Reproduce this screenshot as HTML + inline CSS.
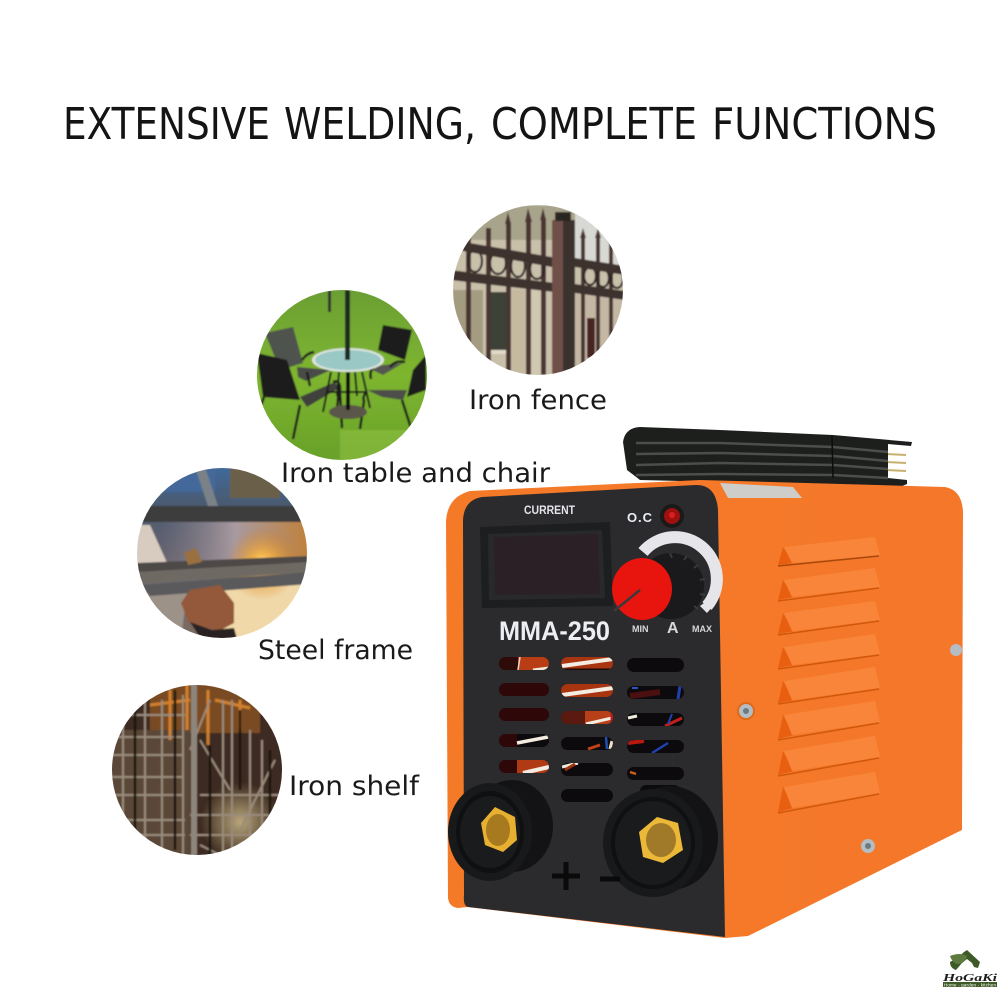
<!DOCTYPE html>
<html><head><meta charset="utf-8"><style>html,body{margin:0;padding:0;background:#fff}svg{display:block}text{font-family:"DejaVu Sans","Liberation Sans",sans-serif}text.ls{font-family:"Liberation Sans",sans-serif}</style></head><body>
<svg width="1000" height="1000" viewBox="0 0 1000 1000" xmlns="http://www.w3.org/2000/svg">
<defs>
<clipPath id="c1"><circle cx="538" cy="290" r="85"/></clipPath>
<clipPath id="c2"><circle cx="342" cy="375" r="85"/></clipPath>
<clipPath id="c3"><circle cx="222" cy="553" r="85"/></clipPath>
<clipPath id="c4"><circle cx="197" cy="770" r="85"/></clipPath>
<filter id="b" x="-5%" y="-5%" width="110%" height="110%"><feGaussianBlur stdDeviation="0.7"/></filter>
<clipPath id="v">
<rect x="499" y="657" width="50" height="13" rx="6.5"/><rect x="561" y="657" width="52" height="13" rx="6.5"/><rect x="627" y="658" width="57" height="14" rx="7"/>
<rect x="499" y="683" width="50" height="13" rx="6.5"/><rect x="561" y="684" width="52" height="13" rx="6.5"/><rect x="627" y="686" width="57" height="13" rx="6.5"/>
<rect x="499" y="708" width="50" height="13" rx="6.5"/><rect x="561" y="711" width="52" height="13" rx="6.5"/><rect x="627" y="713" width="57" height="13" rx="6.5"/>
<rect x="499" y="734" width="50" height="13" rx="6.5"/><rect x="561" y="737" width="52" height="13" rx="6.5"/><rect x="627" y="740" width="57" height="13" rx="6.5"/>
<rect x="499" y="760" width="50" height="13" rx="6.5"/><rect x="561" y="763" width="52" height="13" rx="6.5"/><rect x="627" y="767" width="57" height="13" rx="6.5"/>
<rect x="561" y="789" width="52" height="13" rx="6.5"/><rect x="640" y="785" width="40" height="12" rx="6"/>
</clipPath>
<linearGradient id="sky" x1="0" y1="0" x2="0" y2="1"><stop offset="0" stop-color="#3f6a9c"/><stop offset=".22" stop-color="#4a5a70"/><stop offset=".6" stop-color="#6f6670"/><stop offset="1" stop-color="#7a6a60"/></linearGradient>
<linearGradient id="haze" x1="0" y1="0" x2="1" y2="0"><stop offset="0" stop-color="#8a8088" stop-opacity="0"/><stop offset=".5" stop-color="#a89aa0"/><stop offset="1" stop-color="#c08038"/></linearGradient>
<linearGradient id="grass" x1="0" y1="0" x2="0" y2="1"><stop offset="0" stop-color="#6a9e34"/><stop offset=".5" stop-color="#7eb52e"/><stop offset="1" stop-color="#67a02a"/></linearGradient>
<radialGradient id="spark"><stop offset="0" stop-color="#fff8d0"/><stop offset=".25" stop-color="#f8b848" stop-opacity=".95"/><stop offset="1" stop-color="#d88020" stop-opacity="0"/></radialGradient>
<radialGradient id="glow"><stop offset="0" stop-color="#d8c490" stop-opacity=".8"/><stop offset="1" stop-color="#d8c490" stop-opacity="0"/></radialGradient>
<linearGradient id="side" x1="0" y1="0" x2="1" y2="0"><stop offset="0" stop-color="#f57a28"/><stop offset="1" stop-color="#f5782a"/></linearGradient>
</defs>
<rect width="1000" height="1000" fill="#fff"/>
<g font-size="44" fill="#141414">
<text x="63" y="139" textLength="207" lengthAdjust="spacingAndGlyphs">EXTENSIVE</text>
<text x="284" y="139" textLength="192" lengthAdjust="spacingAndGlyphs">WELDING,</text>
<text x="491" y="139" textLength="206" lengthAdjust="spacingAndGlyphs">COMPLETE</text>
<text x="712" y="139" textLength="225" lengthAdjust="spacingAndGlyphs">FUNCTIONS</text>
</g>

<!-- fence -->
<g clip-path="url(#c1)"><g filter="url(#b)">
<rect x="450" y="205" width="175" height="172" fill="#c9c0aa"/>
<rect x="450" y="205" width="175" height="35" fill="#a8a48c"/>
<rect x="575" y="205" width="50" height="60" fill="#d8d8d4"/>
<rect x="453" y="290" width="30" height="85" fill="#a49c80"/>
<rect x="488" y="292" width="20" height="62" fill="#e0dac8"/><rect x="491" y="292" width="15" height="58" fill="#3e4238"/>
<rect x="512" y="290" width="14" height="85" fill="#c5baa0"/><rect x="530" y="290" width="12" height="85" fill="#d0c8b0"/>
<rect x="575" y="292" width="48" height="85" fill="#c4b8a4"/><rect x="587" y="318" width="8" height="40" fill="#4a2420"/>
<g fill="#4a3632">
<rect x="466" y="225" width="5" height="150"/><rect x="486" y="228" width="5" height="147"/><rect x="506" y="222" width="5" height="153"/><rect x="526" y="220" width="5" height="155"/><rect x="541" y="218" width="5" height="157"/>
<rect x="581" y="235" width="4" height="140"/><rect x="596" y="235" width="4" height="130"/><rect x="609" y="240" width="4" height="120"/>
<path d="M468 215l3 12h-6zM508 212l3 12h-6zM528 208l4 14h-7zM543 208l3 12h-6zM583 228l3 10h-6zM598 228l3 10h-6zM611 232l3 10h-6z"/>
</g>
<g fill="none" stroke="#2e2826" stroke-width="2.2">
<ellipse cx="475" cy="261" rx="7" ry="11"/><ellipse cx="498" cy="263" rx="8" ry="11"/><ellipse cx="518" cy="266" rx="7" ry="11"/><ellipse cx="537" cy="269" rx="7" ry="10"/>
<ellipse cx="590" cy="276" rx="6" ry="9"/><ellipse cx="603" cy="278" rx="6" ry="9"/><ellipse cx="617" cy="279" rx="6" ry="9"/>
</g>
<path d="M452 240l111 19v10l-111-20z" fill="#3e302e"/>
<path d="M450 270l113 14v9l-113-13z" fill="#3e302e"/>
<path d="M575 258l50 8v9l-50-8z" fill="#3e302e"/>
<path d="M575 284l50 7v9l-50-7z" fill="#3e302e"/>
<rect x="552" y="220" width="11" height="157" fill="#6f4f48"/>
<rect x="563" y="220" width="12" height="157" fill="#3a322e"/>
<rect x="555" y="212" width="16" height="9" fill="#2a2624"/>
</g></g>
<text x="469" y="409" font-size="27" fill="#1a1a1a" textLength="138" lengthAdjust="spacingAndGlyphs">Iron fence</text>

<!-- table -->
<g clip-path="url(#c2)"><g filter="url(#b)">
<rect x="255" y="288" width="175" height="175" fill="url(#grass)"/>
<path d="M340 430h90v35h-90z" fill="#8dc040" opacity=".6"/>
<rect x="328" y="290" width="3" height="22" fill="#333"/>
<path d="M265 333l28-6 10 36-23 7z" fill="#50534e"/>
<path d="M297 367l34 3-25 11-8-4z" fill="#4a4c48"/>
<path d="M383 325l29 5-7 30-27-10z" fill="#1c1e1c"/>
<path d="M366 367l37-4-20 12z" fill="#55564f"/>
<rect x="345" y="290" width="5" height="70" fill="#1e2a22"/>
<path d="M257 353l30 7 13 40-37-3z" fill="#1b1d1b"/>
<path d="M300 397l35-15 4 6-32 19z" fill="#3f403c"/>
<path d="M426 355v35l-19 7 6-27z" fill="#1d1f1d"/>
<path d="M367 390h40l-4 10-21-3z" fill="#4e4e4a"/>
<g fill="none" stroke="#1c1e1c" stroke-width="2.5">
<path d="M264 397l-5 14M300 405l-7 34M333 382q8-3 7 10l2 36M339 386l-2 25"/>
<path d="M367 391q-5 6-3 10l-4 28M402 400l9 28M374 367q-5 4-3 12M302 360q5-7 12-8M405 362q-10-2-15 5M307 372l3 14"/>
<path d="M331 372l-8 40M362 372l8 36M339 372l-2 24M355 372l2 24M326 392h40" stroke-width="2"/>
</g>
<ellipse cx="348" cy="412" rx="19" ry="7" fill="#5a5648"/>
<rect x="346" y="368" width="4" height="42" fill="#111"/>
<ellipse cx="348" cy="360" rx="36" ry="12" fill="#e0e6e0"/>
<ellipse cx="348" cy="360" rx="33" ry="10" fill="#9ac8c4"/>
<rect x="345" y="344" width="5" height="16" fill="#1e2a22"/>
</g></g>
<text x="281" y="482" font-size="27" fill="#1a1a1a" textLength="269" lengthAdjust="spacingAndGlyphs">Iron table and chair</text>

<!-- steel -->
<g clip-path="url(#c3)"><g filter="url(#b)">
<rect x="135" y="466" width="175" height="175" fill="url(#sky)"/>
<rect x="160" y="520" width="150" height="50" fill="url(#haze)"/>
<rect x="135" y="466" width="80" height="26" fill="#44689a"/>
<rect x="230" y="468" width="50" height="30" fill="#6a6048"/>
<path d="M222 584L312 572V640H222Z" fill="#f0d8a8"/>
<path d="M196 470l10 0 12 36h-10z" fill="#7a8288"/>
<rect x="135" y="506" width="175" height="16" fill="#3e3c3c"/>
<circle cx="262" cy="564" r="36" fill="url(#spark)"/>
<path d="M135 525l15 0 18 40-33 2z" fill="#d8ccc0"/>
<path d="M135 590l30-3 22 5-5 40-50 0z" fill="#9c9288"/>
<path d="M137 563L310 556V566L137 574Z" fill="#4e4a46"/>
<path d="M137 572L310 562V572L137 584Z" fill="#6e6a64"/>
<path d="M140 585L310 572V584L150 596Z" fill="#5a5a5c"/>
<path d="M184 553l12-5 6 14-14 3z" fill="#9a7040"/>
<path d="M190 590l30-5 14 18 0 20-15 8-30-8-8-20z" fill="#94583a"/>
<path d="M190 622l22 8 22-2 4 14h-35z" fill="#2a2220"/>
</g></g>
<text x="258" y="659" font-size="27" fill="#1a1a1a" textLength="155" lengthAdjust="spacingAndGlyphs">Steel frame</text>

<!-- shelf -->
<g clip-path="url(#c4)"><g filter="url(#b)">
<rect x="110" y="683" width="175" height="175" fill="#3c2a20"/>
<rect x="150" y="683" width="110" height="50" fill="#7a4c22"/>
<rect x="110" y="730" width="80" height="125" fill="#5a4638"/>
<circle cx="240" cy="822" r="40" fill="url(#glow)"/>
<g stroke="#e08a30" stroke-width="3" fill="none" opacity=".85"><path d="M170 690V740M187 685V730M208 690V745M240 700V730M150 705l40-5M215 700l35 8"/></g>
<g stroke="#9a8c7c" stroke-width="2" fill="none">
<path d="M123 712V850M145 700V855M162 700V855M183 695V855M223 700V855M232 700V855M250 730V855M262 740V845"/>
<path d="M112 715H185M112 737H183M112 755H183M112 777H183M112 795H183M112 820H185M112 835H185"/>
<path d="M200 795H282M190 835H270M190 815H270"/>
<path d="M210 700l-20 50M230 790l-30-50M240 830l35-70M200 845l20 10"/>
</g>
<rect x="191" y="685" width="6" height="170" fill="#8e867c"/>
<g stroke="#1e1410" stroke-width="2.5" fill="none"><path d="M135 700V850M175 690V850M210 745V855M240 710V790M270 750V830"/></g>
</g></g>
<text x="289" y="795" font-size="27" fill="#1a1a1a" textLength="130" lengthAdjust="spacingAndGlyphs">Iron shelf</text>

<!-- handle -->
<g stroke="#c8b070" stroke-width="2"><path d="M886 454l20 1M886 462l20 1M886 470l20 1"/></g>
<path d="M623 442Q625 428 640 427L720 430 833 435 912 442 911 446 888 444V478L907 480 907 484 900 487 720 482 640 480 627 470Z" fill="#1d1f1d"/>
<g stroke="#4c4e4a" stroke-width="2.5" fill="none"><path d="M636 443L720 443 833 447 888 452M636 454L720 453 833 456 888 461M636 465L720 463 833 465 888 469M636 475L720 474 833 475 888 478"/></g>
<path d="M832 436l1 42" stroke="#0c0c0c" stroke-width="1.5"/>

<!-- body -->
<path d="M446 522Q447 497 470 491L700 480 945 487Q962 490 963 512L962 830 748 936 725 938 468 907 458 908Q449 907 448 898Z" fill="url(#side)"/>
<path d="M720 483L793 487 802 498 728 498Z" fill="#cfcdca"/>
<path d="M463 520Q464 500 482 497L695 485Q716 484 718 510L725 937 468 907Q463 906 464 895Z" fill="#2b2b2d"/>

<!-- louvers -->
<g>
<g fill="#e85f10"><path d="M783 547L778 565 794 563Z"/><path d="M783 580L778 600 794 597Z"/><path d="M783 613L778 634 794 631Z"/><path d="M783 647L778 668 794 665Z"/><path d="M783 681L778 703 794 700Z"/><path d="M783 715L778 739 794 735Z"/><path d="M783 751L778 775 794 771Z"/><path d="M783 787L778 812 794 808Z"/></g>
<g fill="#f8853a">
<path d="M784 547L875 537 880 555 792 563Z"/>
<path d="M784 580L875 568 880 587 792 597Z"/>
<path d="M784 613L875 601 880 620 792 631Z"/>
<path d="M784 647L875 634 880 654 792 665Z"/>
<path d="M784 681L875 667 880 688 792 700Z"/>
<path d="M784 715L875 701 880 722 792 735Z"/>
<path d="M784 751L875 736 880 757 792 771Z"/>
<path d="M784 787L875 772 880 793 792 808Z"/>
</g>
<g stroke="#a8480c" stroke-width="1.5" fill="none">
<path d="M778 566L879 556"/><path d="M778 601L879 588" stroke="#d0580c"/><path d="M778 635L879 621" stroke="#d0580c"/><path d="M778 669L879 655" stroke="#d0580c"/><path d="M778 704L879 689" stroke="#d0580c"/><path d="M778 740L879 723" stroke="#d0580c"/><path d="M778 776L879 758" stroke="#d0580c"/><path d="M778 813L879 794" stroke="#d0580c"/>
</g>
</g>
<circle cx="746" cy="711" r="9" fill="#dd6a1a"/><circle cx="746" cy="711" r="7" fill="#b4bcc4"/><circle cx="746" cy="711" r="3" fill="#6c7a84"/>
<circle cx="956" cy="650" r="6" fill="#b4bcc4"/>
<circle cx="868" cy="846" r="7" fill="#b4bcc4"/><circle cx="868" cy="846" r="3" fill="#6c7a84"/>

<!-- panel -->
<text class="ls" x="524" y="514" font-size="12" font-weight="bold" fill="#e4e4ec" textLength="51" lengthAdjust="spacingAndGlyphs">CURRENT</text>
<path d="M480 527L610 522 613 606 482 608Z" fill="#1c1e20"/>
<path d="M488 534L602 530 605 598 489 600Z" fill="#28292b"/>
<path d="M494 537L598 534 600 594 495 595Z" fill="#2a2026"/>
<text class="ls" x="627" y="522" font-size="13" font-weight="bold" fill="#e8ecf4" textLength="25" lengthAdjust="spacing">O.C</text>
<circle cx="672" cy="516" r="12" fill="#1a1a1a"/><circle cx="672" cy="516" r="8" fill="#a01010"/><circle cx="672" cy="515" r="3" fill="#d82020"/>
<path d="M643 552A41 41 0 1 1 707 606" fill="none" stroke="#e6e6ea" stroke-width="12"/>
<path d="M700 606l8-6 6 5-7 8z" fill="#e6e6ea"/>
<circle cx="671" cy="586" r="33" fill="#1a1a1c"/>
<g stroke="#3a3a3c" stroke-width="2"><path d="M672 558l-2-5M684 560l3-4M694 568l4-3M700 580l5-1M700 594l5 1M694 606l4 3"/></g>
<ellipse cx="642" cy="589" rx="30" ry="31" fill="#e8140e"/>
<path d="M640 590L614 611" stroke="#3a3a3a" stroke-width="2.5"/>
<g fill="#d8d8dc" font-weight="bold">
<text class="ls" x="632" y="632" font-size="9">MIN</text>
<text class="ls" x="667" y="633" font-size="16">A</text>
<text class="ls" x="692" y="632" font-size="9">MAX</text>
<text class="ls" x="499" y="640" font-size="27" fill="#eceef2" textLength="111" lengthAdjust="spacingAndGlyphs">MMA-250</text>
</g>

<!-- vents -->
<g clip-path="url(#v)">
<rect x="490" y="650" width="200" height="155" fill="#0c0a0c"/>
<rect x="499" y="657" width="20" height="13" fill="#2e0a08"/>
<rect x="518" y="657" width="31" height="13" fill="#b83c14"/>
<path d="M520 657l-2 13" stroke="#e8d8c8" stroke-width="1.5"/>
<path d="M533 670l16-2" stroke="#f0e8d8" stroke-width="3"/>
<rect x="561" y="657" width="52" height="13" fill="#a83410"/>
<path d="M562 666L613 659" stroke="#f4ece0" stroke-width="4"/><path d="M562 670h50" stroke="#1a0c0a" stroke-width="3"/>
<rect x="499" y="683" width="50" height="13" fill="#2e0808"/>
<rect x="561" y="684" width="52" height="13" fill="#a83410"/>
<path d="M562 695L613 688" stroke="#f4ece0" stroke-width="4"/>
<rect x="499" y="708" width="50" height="13" fill="#2e0808"/>
<rect x="561" y="711" width="52" height="13" fill="#5a1a10"/>
<rect x="585" y="711" width="28" height="13" fill="#b84018"/>
<path d="M586 724L612 718" stroke="#f4ece0" stroke-width="3"/><path d="M612 711v13" stroke="#c01818" stroke-width="3"/>
<rect x="499" y="734" width="18" height="13" fill="#2e0808"/>
<path d="M517 743L548 737" stroke="#f4ece0" stroke-width="3.5"/>
<path d="M588 749l12-4" stroke="#c84018" stroke-width="3"/><path d="M606 737l1 12" stroke="#2050b0" stroke-width="2.5"/><path d="M612 741l-2 8" stroke="#f0e0c8" stroke-width="3"/>
<rect x="499" y="760" width="18" height="13" fill="#2e0808"/>
<rect x="517" y="760" width="32" height="13" fill="#b03a14"/>
<path d="M523 773L549 767" stroke="#f4ece0" stroke-width="4"/>
<path d="M562 767L578 763" stroke="#f0e8d8" stroke-width="3"/><path d="M575 764l-10 6" stroke="#a03010" stroke-width="3"/>
<path d="M630 696L660 692" stroke="#4a1010" stroke-width="6"/><path d="M680 686l-2 13" stroke="#2040b0" stroke-width="3"/><path d="M632 688h6" stroke="#3050c0" stroke-width="2"/>
<path d="M628 718l9-2" stroke="#f0ead8" stroke-width="3"/><path d="M665 726l17-8" stroke="#c02018" stroke-width="3"/><path d="M672 714l-4 10" stroke="#2040b0" stroke-width="2"/>
<path d="M628 743l16-2" stroke="#b81810" stroke-width="4"/><path d="M652 753l16-10" stroke="#2040b0" stroke-width="2.5"/>
<path d="M630 772l6 2" stroke="#c86020" stroke-width="2.5"/>
</g>

<!-- connectors -->
<ellipse cx="512" cy="826" rx="41" ry="46" fill="#131315"/>
<ellipse cx="490" cy="832" rx="42" ry="49" fill="#18191b"/>
<ellipse cx="490" cy="832" rx="34" ry="41" fill="#0f1011"/>
<ellipse cx="490" cy="832" rx="30" ry="36" fill="#1a1b1d"/>
<path d="M495 807L515 817 517 840 503 852 485 845 481 823Z" fill="#e8b030"/>
<ellipse cx="498" cy="830" rx="12" ry="16" fill="#a87a20"/>
<ellipse cx="670" cy="838" rx="48" ry="52" fill="#131315"/>
<ellipse cx="653" cy="843" rx="50" ry="54" fill="#18191b"/>
<ellipse cx="653" cy="843" rx="42" ry="46" fill="#0f1011"/>
<ellipse cx="653" cy="843" rx="38" ry="42" fill="#1a1b1d"/>
<path d="M657 817L678 823 683 850 663 863 643 857 639 832Z" fill="#ecb838"/>
<ellipse cx="661" cy="840" rx="15" ry="17" fill="#a07a28"/>
<path d="M552 876h28M566 862v28" stroke="#0a0a0a" stroke-width="5"/>
<path d="M600 879h20" stroke="#0a0a0a" stroke-width="5"/>

<!-- logo -->
<path d="M950 962q8-4 14-10l3-2 13 12-2 6-4-1-2-4-5-4-5 4-6 7q-6-2-6-8z" fill="#3e5a26"/>
<path d="M950 956q10-4 17 0-2 8-10 8-5-2-7-8z" fill="#5e7a40"/>
<text x="943" y="981" font-size="11" font-style="italic" font-weight="bold" fill="#1c1c1c" textLength="54" lengthAdjust="spacingAndGlyphs" style="font-family:'Liberation Serif',serif">HoGaKi</text>
<rect x="943" y="982" width="54" height="5" fill="#3e5a26"/>
<text class="ls" x="944" y="986.5" font-size="4.5" fill="#fff" textLength="52">Home - garden - kitchen</text>
</svg>
</body></html>
